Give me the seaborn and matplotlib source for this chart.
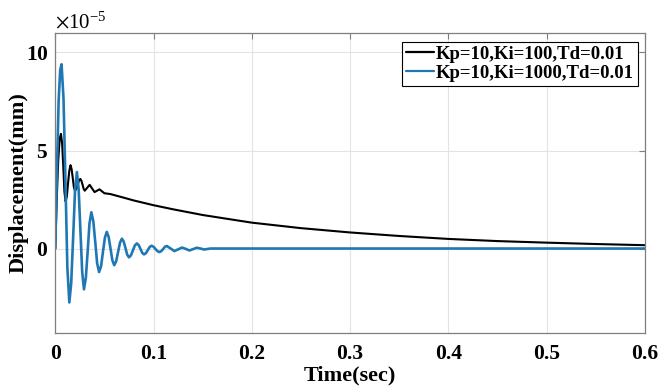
import numpy as np
import pandas as pd
import seaborn as sns
import matplotlib
matplotlib.use('Agg')
import matplotlib.pyplot as plt

# values (displacement in units of 1e-5 mm)
t_black = [0, 0.0015, 0.003, 0.0045, 0.0058, 0.007, 0.0082, 0.0093, 0.0105, 0.0118,
           0.013, 0.0143, 0.0155, 0.0166, 0.0178, 0.0189, 0.020, 0.0214, 0.0228, 0.0241,
           0.0255, 0.0266, 0.0278, 0.0289, 0.030, 0.0325, 0.035, 0.0375, 0.040, 0.0425,
           0.045, 0.0475, 0.050, 0.056, 0.07, 0.08, 0.1, 0.12, 0.15, 0.2,
           0.25, 0.3, 0.35, 0.4, 0.45, 0.5, 0.55, 0.6]
y_black = [0, 2.5, 4.5, 5.6, 5.85, 5.35, 4.13, 2.9, 2.4, 2.67,
           3.33, 3.98, 4.25, 4.06, 3.6, 3.14, 2.95, 3.04, 3.25, 3.46,
           3.55, 3.46, 3.25, 3.04, 2.95, 3.1, 3.25, 3.06, 2.88, 2.95,
           3.02, 2.92, 2.82, 2.78, 2.59, 2.45, 2.21, 2.0, 1.71, 1.32,
           1.04, 0.82, 0.64, 0.49, 0.38, 0.3, 0.23, 0.17]

t_blue = [0, 0.0017, 0.0034, 0.005, 0.0064, 0.0084, 0.0104, 0.0123, 0.0143, 0.0162,
          0.0182, 0.0201, 0.022, 0.0238, 0.0256, 0.0274, 0.0292, 0.0311, 0.033, 0.0348,
          0.0367, 0.0387, 0.0407, 0.0426, 0.0446, 0.0466, 0.0485, 0.0505, 0.0524, 0.0543,
          0.0562, 0.0581, 0.060, 0.062, 0.0639, 0.0659, 0.0678, 0.0696, 0.0714, 0.0732,
          0.075, 0.077, 0.079, 0.081, 0.083, 0.0848, 0.0867, 0.0885, 0.0903, 0.0922,
          0.0942, 0.0961, 0.098, 0.1, 0.1019, 0.1039, 0.1058, 0.1077, 0.1097, 0.1116,
          0.1135, 0.1174, 0.1212, 0.1251, 0.129, 0.1328, 0.1365, 0.1403, 0.144, 0.1478,
          0.1515, 0.158, 0.6]
y_blue = [0, 4.0, 7.5, 9.1, 9.4, 7.63, 3.33, -0.97, -2.75, -1.78,
          0.58, 2.93, 3.9, 3.02, 0.91, -1.2, -2.08, -1.5, -0.12, 1.27,
          1.85, 1.4, 0.33, -0.75, -1.2, -0.9, -0.18, 0.55, 0.85, 0.6,
          0.0, -0.6, -0.85, -0.65, -0.18, 0.3, 0.5, 0.36, 0.03, -0.31,
          -0.45, -0.35, -0.1, 0.16, 0.26, 0.18, -0.02, -0.22, -0.3, -0.24,
          -0.08, 0.08, 0.14, 0.09, -0.02, -0.13, -0.18, -0.14, -0.03, 0.09,
          0.13, 0.0, -0.13, -0.04, 0.05, -0.02, -0.1, -0.03, 0.04, 0.0,
          -0.05, 0.0, 0.0]

labels = ['Kp=10,Ki=100,Td=0.01', 'Kp=10,Ki=1000,Td=0.01']
colors = ['#000000', '#1f78b4']

df = pd.concat([
    pd.DataFrame({'t': t_black, 'y': np.array(y_black) * 1e-5, 'case': labels[0]}),
    pd.DataFrame({'t': t_blue, 'y': np.array(y_blue) * 1e-5, 'case': labels[1]}),
])

sns.set_style('white')
plt.rcParams['font.family'] = ['Liberation Serif', 'DejaVu Serif']
plt.rcParams['mathtext.fontset'] = 'stix'
plt.rcParams.update({'text.color': 'black', 'axes.labelcolor': 'black',
                     'xtick.labelcolor': 'black', 'ytick.labelcolor': 'black'})

fig = plt.figure(figsize=(6.58, 3.87), dpi=100)
ax = fig.add_axes([0.084, 0.14, 0.896, 0.775])

sns.lineplot(data=df, x='t', y='y', hue='case', palette=colors,
             estimator=None, sort=False, ax=ax, linewidth=1.6)
for line, lw in zip(ax.get_lines(), [1.5, 1.9]):
    line.set_linewidth(lw)

ax.set_xlim(0, 0.6)
ax.set_ylim(-4.3e-5, 11e-5)
ax.set_xticks([0, 0.1, 0.2, 0.3, 0.4, 0.5, 0.6])
ax.set_xticklabels(['0', '0.1', '0.2', '0.3', '0.4', '0.5', '0.6'])
ax.set_yticks([0, 5e-5, 10e-5])
ax.ticklabel_format(axis='y', style='sci', scilimits=(-5, -5), useMathText=True)
ax.yaxis.get_offset_text().set_fontsize(15)
ax.yaxis.get_offset_text().set_color('black')

ax.grid(True, color='#e3e3e3', linewidth=0.8)
for s in ax.spines.values():
    s.set_color('#7f7f7f')
    s.set_linewidth(0.9)
ax.tick_params(direction='in', length=4, color='#7f7f7f', top=True, right=True,
               labelsize=15.5, labelcolor='black')
ax.tick_params(axis='x', pad=8)
ax.tick_params(axis='y', pad=5)
for lab in ax.get_xticklabels() + ax.get_yticklabels():
    lab.set_fontweight('bold')

ax.set_xlabel('Time(sec)', fontsize=16, fontweight='bold', labelpad=1, color='black')
ax.set_ylabel('Displacement(mm)', fontsize=16, fontweight='bold', color='black')
ax.yaxis.set_label_coords(-0.046, 0.5)

leg = ax.legend(loc='upper right', bbox_to_anchor=(0.988, 0.97), fontsize=13.5,
                frameon=True, fancybox=False, framealpha=1, edgecolor='black',
                handlelength=1.5, handletextpad=0.1, borderpad=0.2,
                labelspacing=0.1, borderaxespad=0)
leg.get_frame().set_linewidth(0.8)
for txt in leg.get_texts():
    txt.set_fontweight('bold')
    txt.set_color('black')

fig.savefig('out.png', dpi=100)
